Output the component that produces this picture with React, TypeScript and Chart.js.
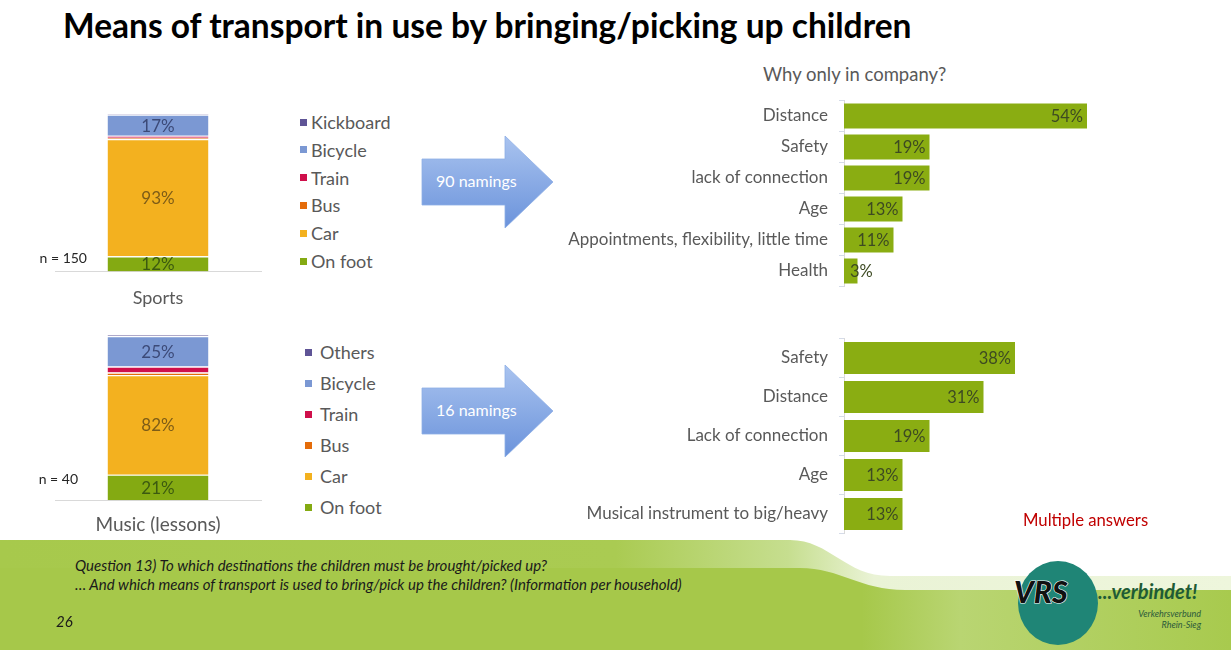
import React, { useEffect, useRef } from 'react';
import { Chart, registerables } from 'chart.js';
Chart.register(...registerables);

const FONT = 'Lato, "Open Sans", sans-serif';

// ---------- data ----------
const sportsCategory = ['Sports'];
const sportsModes = ['On foot', 'Car', 'Bus', 'Train', 'Bicycle', 'Kickboard'];
const sportsValues = [12, 93, 1, 1.5, 17, 0.5];

const musicCategory = ['Music (lessons)'];
const musicModes = ['On foot', 'Car', 'Bus', 'Train', 'Bicycle', 'Others'];
const musicValues = [21, 82, 2, 5, 25, 1];

const sportsReasons = ['Distance', 'Safety', 'lack of connection', 'Age', 'Appointments, flexibility, little time', 'Health'];
const sportsReasonValues = [54, 19, 19, 13, 11, 3];

const musicReasons = ['Safety', 'Distance', 'Lack of connection', 'Age', 'Musical instrument to big/heavy'];
const musicReasonValues = [38, 31, 19, 13, 13];

// ---------- styles ----------
const modeColors = ['#84aa12', '#f3b11f', '#e46c0a', '#cf0f4b', '#7b98d3', '#5f5496'];
const modeLabelColors = ['#3c5a10', '#7d5c17', '#7d3a08', '#6f0828', '#3c4a78', '#2f2a4f'];
const reasonColor = '#8aad12';

const stackLabelPlugin = {
  id: 'stackLabels',
  afterDatasetsDraw(chart: any) {
    const ctx = chart.ctx;
    ctx.save();
    ctx.font = `17px ${FONT}`;
    ctx.textAlign = 'center';
    ctx.textBaseline = 'middle';
    chart.data.datasets.forEach((ds: any, i: number) => {
      const v = ds.data[0];
      if (v < 10) return;
      const el = chart.getDatasetMeta(i).data[0];
      ctx.fillStyle = ds.labelColor;
      ctx.fillText(v + '%', el.x, (el.y + el.base) / 2 + 1);
    });
    ctx.restore();
  },
};

const barLabelPlugin = {
  id: 'barLabels',
  afterDatasetsDraw(chart: any) {
    const ctx = chart.ctx;
    ctx.save();
    ctx.font = `16.5px ${FONT}`;
    ctx.fillStyle = '#3d4a22';
    ctx.textBaseline = 'middle';
    ctx.textAlign = 'left';
    const ds = chart.data.datasets[0];
    chart.getDatasetMeta(0).data.forEach((el: any, i: number) => {
      const t = ds.data[i] + '%';
      const w = ctx.measureText(t).width;
      let x = el.x - 4 - w;
      if (x < el.base + 6) x = el.base + 6;
      ctx.fillText(t, x, el.y + 1);
    });
    ctx.restore();
  },
};

type Box = { x: number; y: number; w: number; h: number };

function StackedChart(props: {
  category: string[]; modes: string[]; values: number[]; max: number; box: Box;
  padding: any; tickPadding: number; tickSize: number;
}) {
  const ref = useRef<HTMLCanvasElement>(null);
  useEffect(() => {
    const chart = new Chart(ref.current as HTMLCanvasElement, {
      type: 'bar',
      data: {
        labels: props.category,
        datasets: props.modes.map((m, i) => ({
          label: m,
          data: [props.values[i]],
          backgroundColor: modeColors[i],
          borderColor: '#ffffff',
          borderWidth: { top: 1.2, left: 0, right: 0, bottom: 0 },
          borderSkipped: false,
          barPercentage: 0.49,
          categoryPercentage: 1,
          labelColor: modeLabelColors[i],
        })) as any,
      },
      options: {
        responsive: false,
        animation: false,
        layout: { padding: props.padding },
        plugins: { legend: { display: false }, tooltip: { enabled: false } },
        scales: {
          x: {
            stacked: true,
            grid: { display: false, drawTicks: false },
            border: { display: true, color: '#d9d9d9' },
            ticks: { color: '#595959', font: { family: FONT, size: props.tickSize }, padding: props.tickPadding },
          },
          y: { stacked: true, display: false, min: 0, max: props.max },
        },
      },
      plugins: [stackLabelPlugin],
    });
    return () => chart.destroy();
  }, []);
  const b = props.box;
  return <canvas ref={ref} width={b.w} height={b.h} style={{ position: 'absolute', left: b.x, top: b.y }} />;
}

function ReasonChart(props: {
  labels: string[]; values: number[]; box: Box; padding: any; barPct: number;
}) {
  const ref = useRef<HTMLCanvasElement>(null);
  useEffect(() => {
    const chart = new Chart(ref.current as HTMLCanvasElement, {
      type: 'bar',
      data: {
        labels: props.labels,
        datasets: [{ data: props.values, backgroundColor: reasonColor, barPercentage: props.barPct, categoryPercentage: 1 }],
      },
      options: {
        indexAxis: 'y',
        responsive: false,
        animation: false,
        layout: { padding: props.padding },
        plugins: { legend: { display: false }, tooltip: { enabled: false } },
        scales: {
          x: { display: false, min: 0, max: 60 },
          y: {
            grid: { display: true, drawOnChartArea: false, drawTicks: true, tickLength: 5, color: '#d5dbe8' },
            border: { display: true, color: '#d9d9d9' },
            ticks: { color: '#595959', font: { family: FONT, size: 17 }, padding: 11 },
            afterFit: (s: any) => { s.width = 284; s.paddingTop = 0; s.paddingBottom = 0; },
          },
        },
      },
      plugins: [barLabelPlugin],
    });
    return () => chart.destroy();
  }, []);
  const b = props.box;
  return <canvas ref={ref} width={b.w} height={b.h} style={{ position: 'absolute', left: b.x, top: b.y }} />;
}

function Legend(props: { items: string[]; x: number; y: number; gap: number; textX: number }) {
  const list = props.items.map((t, i) => ({ t, c: modeColors[i] })).reverse();
  return (
    <>
      {list.map((it, i) => (
        <div key={it.t} style={{ position: 'absolute', left: props.x, top: props.y + i * props.gap - 11, height: 22, display: 'flex', alignItems: 'center' }}>
          <div style={{ width: 7, height: 7, background: it.c }} />
          <div style={{ marginLeft: props.textX, font: `18px ${FONT}`, color: '#595959', whiteSpace: 'nowrap' }}>{it.t}</div>
        </div>
      ))}
    </>
  );
}

function T(props: { x: number; y: number; s: number; c?: string; w?: number; i?: boolean; txt: string; align?: string }) {
  const st: any = {
    position: 'absolute', top: props.y - props.s * 0.6, font: `${props.i ? 'italic ' : ''}${props.w || 400} ${props.s}px ${FONT}`,
    color: props.c || '#595959', whiteSpace: 'nowrap', lineHeight: 1.2,
  };
  if (props.align === 'right') st.right = 1231 - props.x; else st.left = props.x;
  return <div style={st}>{props.txt}</div>;
}

function Arrow(props: { y: number; text: string; id: string }) {
  const cy = props.y;
  const d = `M422,${cy - 23} L505,${cy - 23} L505,${cy - 46} L553,${cy} L505,${cy + 46} L505,${cy + 23} L422,${cy + 23} Z`;
  return (
    <g>
      <defs>
        <linearGradient id={props.id} x1="0" y1="0" x2="0" y2="1">
          <stop offset="0" stopColor="#a9c3ef" />
          <stop offset="1" stopColor="#6b93db" />
        </linearGradient>
      </defs>
      <path d={d} fill={`url(#${props.id})`} stroke="#8eaee6" strokeWidth="0.8" />
      <text x={436} y={cy + 5} fill="#ffffff" style={{ font: `16px ${FONT}` }}>{props.text}</text>
    </g>
  );
}

export default function App() {
  return (
    <div style={{ position: 'absolute', left: 0, top: 0, width: 1231, height: 650, background: '#ffffff', overflow: 'hidden' }}>
      <svg width={1231} height={650} style={{ position: 'absolute', left: 0, top: 0 }}>
        <defs>
          <linearGradient id="band" x1="0" y1="0" x2="1" y2="0">
            <stop offset="0" stopColor="#a7c94c" />
            <stop offset="0.5" stopColor="#aacb52" />
            <stop offset="0.64" stopColor="#c6de8f" />
            <stop offset="0.71" stopColor="#eaf3d6" />
            <stop offset="1" stopColor="#eef6dc" />
          </linearGradient>
          <linearGradient id="main" x1="0" y1="0" x2="1" y2="0">
            <stop offset="0" stopColor="#a6c84a" />
            <stop offset="0.7" stopColor="#a6c84a" />
            <stop offset="0.78" stopColor="#b9d572" />
            <stop offset="1" stopColor="#a8ca4e" />
          </linearGradient>
        </defs>
        <path d="M0,540 L790,540 C830,540 845,576 890,576 L1231,576 L1231,650 L0,650 Z" fill="url(#band)" />
        <path d="M0,568 L800,568 C840,568 860,590 905,590 L1231,590 L1231,650 L0,650 Z" fill="url(#main)" />
        <Arrow y={182} text="90 namings" id="ar1" />
        <Arrow y={411} text="16 namings" id="ar2" />
        <ellipse cx={1058} cy={603} rx={40} ry={42} fill="#1f8576" />
        <text x={1014} y={603} fill="#111111" stroke="#ffffff" strokeWidth="1.2" paintOrder="stroke" style={{ font: `italic 900 30px ${FONT}` }}>VRS</text>
        <text x={1098} y={599} fill="#1e5b35" style={{ font: `italic 700 20px ${FONT}` }}>...verbindet!</text>
        <text x={1201} y={617} fill="#2c5a3a" textAnchor="end" style={{ font: `italic 9px ${FONT}` }}>Verkehrsverbund</text>
        <text x={1201} y={628} fill="#2c5a3a" textAnchor="end" style={{ font: `italic 9px ${FONT}` }}>Rhein-Sieg</text>
      </svg>

      <T x={63} y={25} s={33.5} w={700} c="#000000" txt="Means of transport in use by bringing/picking up children" />
      <T x={763} y={74} s={18.5} txt="Why only in company?" />

      <StackedChart category={sportsCategory} modes={sportsModes} values={sportsValues} max={130}
        box={{ x: 52, y: 100, w: 212, h: 228 }} padding={{ left: 3, right: 3, top: 7.5, bottom: 3 }} tickPadding={16} tickSize={18} />
      <StackedChart category={musicCategory} modes={musicModes} values={musicValues} max={140}
        box={{ x: 52, y: 325, w: 212, h: 226 }} padding={{ left: 3, right: 3, top: 5, bottom: 2 }} tickPadding={13} tickSize={19} />

      <T x={87} y={258} s={14} c="#262626" align="right" txt="n = 150" />
      <T x={78} y={479} s={14} c="#262626" align="right" txt="n = 40" />

      <Legend items={sportsModes} x={300} y={122} gap={27.8} textX={4} />
      <Legend items={musicModes} x={305} y={352} gap={31} textX={8} />

      <ReasonChart labels={sportsReasons} values={sportsReasonValues} box={{ x: 560, y: 95, w: 560, h: 200 }}
        padding={{ left: 0, right: 6, top: 5.5, bottom: 8.5 }} barPct={0.8} />
      <ReasonChart labels={musicReasons} values={musicReasonValues} box={{ x: 560, y: 330, w: 560, h: 210 }}
        padding={{ left: 0, right: 6, top: 8.5, bottom: 6.5 }} barPct={0.82} />

      <T x={1023} y={520} s={16.7} c="#c00000" txt="Multiple answers" />

      <T x={75} y={565} s={15} c="#1a1a1a" i txt="Question 13) To which destinations the children must be brought/picked up?" />
      <T x={75} y={584} s={15} c="#1a1a1a" i txt="… And which means of transport is used to bring/pick up the children? (Information per household)" />
      <T x={56} y={621} s={15} c="#1a1a1a" i txt="26" />
    </div>
  );
}
